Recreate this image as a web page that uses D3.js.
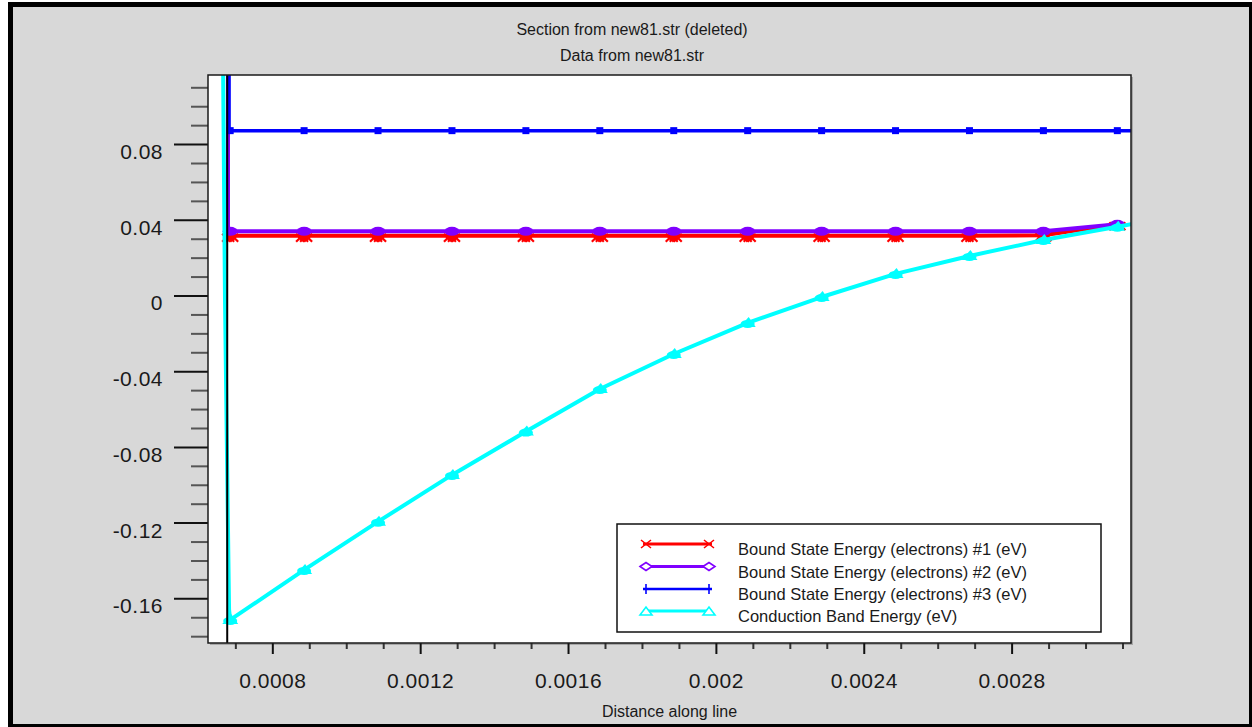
<!DOCTYPE html>
<html>
<head>
<meta charset="utf-8">
<script src="https://cdn.jsdelivr.net/npm/d3@7"></script>
<style>
  html, body { margin: 0; padding: 0; background: #ffffff; }
  svg { display: block; }
  text { font-family: "Liberation Sans", Arial, Helvetica, sans-serif; fill: #1a1a1a; }
</style>
</head>
<body>
<svg id="chart" width="1252" height="727"></svg>
<script>
// Sample positions along the cut line (where symbols are placed)
const distance = [0.000686, 0.000886, 0.001086, 0.001286, 0.001486, 0.001686, 0.001886,
                  0.002086, 0.002286, 0.002486, 0.002686, 0.002886, 0.003086];
// Energies (eV) at those positions
const boundState1 = [0.0316, 0.0316, 0.0316, 0.0316, 0.0316, 0.0316, 0.0316,
                     0.0316, 0.0316, 0.0316, 0.0316, 0.0318, 0.0376];
const boundState2 = [0.0339, 0.0339, 0.0339, 0.0339, 0.0339, 0.0339, 0.0339,
                     0.0339, 0.0339, 0.0339, 0.0339, 0.0339, 0.0376];
const boundState3 = [0.0871, 0.0871, 0.0871, 0.0871, 0.0871, 0.0871, 0.0871,
                     0.0871, 0.0871, 0.0871, 0.0871, 0.0871, 0.0871];
const conductionBand = [-0.1714, -0.1450, -0.1195, -0.0948, -0.0719, -0.0494, -0.0309,
                        -0.0145, -0.0008, 0.0114, 0.0209, 0.0293, 0.0363];

// Barrier wall at the left side of the well
const wallDistance = [0.000666, 0.000667, 0.000672, 0.000679, 0.000683];
const wallBand     = [0.1300, 0.1165, -0.0024, -0.1080, -0.1660];
// Left edge of each bound-state level (they rise off the top of the axes there)
const stateWallDistance = [0.000680, 0.000680, 0.000683];
const stateWallTop = 0.1300;
// Points past the last symbol, running to the right end of the line
const tailDistance = 0.003140;
const tailBand = 0.0383;
// Interface position (drawn as a vertical marker)
const interfaceDistance = 0.000678;

// Axis ticks
const xTicks = [0.0008, 0.0012, 0.0016, 0.002, 0.0024, 0.0028];
const xTickLabels = ["0.0008", "0.0012", "0.0016", "0.002", "0.0024", "0.0028"];
const yTicks = [0.08, 0.04, 0, -0.04, -0.08, -0.12, -0.16];
const yTickLabels = ["0.08", "0.04", "0", "-0.04", "-0.08", "-0.12", "-0.16"];

const titleLines = ["Section from new81.str (deleted)", "Data from new81.str"];
const xTitle = "Distance along line";
const legendLabels = [
  "Bound State Energy (electrons) #1 (eV)",
  "Bound State Energy (electrons) #2 (eV)",
  "Bound State Energy (electrons) #3 (eV)",
  "Conduction Band Energy (eV)"
];
const seriesColors = ["#ff0000", "#8000ff", "#0000ff", "#00ffff"];

// ---------------------------------------------------------------------------
const svg = d3.select("#chart");
const W = 1252, H = 727;
const plot = { left: 208, top: 75, right: 1131, bottom: 643 };

// page frame
svg.append("rect").attr("x", 0).attr("y", 0).attr("width", W).attr("height", H).attr("fill", "#ffffff");
svg.append("rect").attr("x", 8).attr("y", 2).attr("width", W - 8).attr("height", H - 2).attr("fill", "#000000");
svg.append("rect").attr("x", 13).attr("y", 7).attr("width", W - 8 - 5 - 3).attr("height", H - 2 - 5 - 3).attr("fill", "#d8d8d8");

const x = d3.scaleLinear().domain([0.000626, 0.003123]).range([plot.left, plot.right]);
const y = d3.scaleLinear().domain([-0.1836, 0.1165]).range([plot.bottom, plot.top]);

// plot background with a soft shadow on the right/bottom
svg.append("rect").attr("x", plot.left + 2).attr("y", plot.top + 2)
  .attr("width", plot.right - plot.left).attr("height", plot.bottom - plot.top).attr("fill", "#a8a8a8");
svg.append("rect").attr("x", plot.left).attr("y", plot.top)
  .attr("width", plot.right - plot.left).attr("height", plot.bottom - plot.top)
  .attr("fill", "#ffffff");

svg.append("clipPath").attr("id", "plotClip").append("rect")
  .attr("x", plot.left).attr("y", plot.top)
  .attr("width", plot.right - plot.left).attr("height", plot.bottom - plot.top);

// ---------------- axes ----------------
const yMinor = d3.range(-18, 12).map(d => d / 100).filter(v => Math.abs(Math.round(v * 100)) % 4 !== 0);
const xMinor = d3.range(7, 32).map(d => d / 10000).filter(v => Math.round(v * 10000) % 4 !== 0);

const yMinorAxis = svg.append("g").attr("transform", `translate(${plot.left},0)`)
  .call(d3.axisLeft(y).tickValues(yMinor).tickSize(17).tickFormat(""));
yMinorAxis.selectAll("line").attr("stroke", "#555").attr("stroke-width", 2);

const yMajorAxis = svg.append("g").attr("transform", `translate(${plot.left},0)`)
  .call(d3.axisLeft(y).tickValues(yTicks).tickSize(34).tickPadding(12)
    .tickFormat((d, i) => yTickLabels[i]));
yMajorAxis.selectAll("line").attr("stroke", "#111").attr("stroke-width", 2);
yMajorAxis.selectAll("text")
  .attr("dy", 14.5).attr("x", -45)
  .style("font-size", "21px").style("letter-spacing", "0.5px").attr("fill", "#1a1a1a");

const xMinorAxis = svg.append("g").attr("transform", `translate(0,${plot.bottom})`)
  .call(d3.axisBottom(x).tickValues(xMinor).tickSize(6).tickFormat(""));
xMinorAxis.selectAll("line").attr("stroke", "#333").attr("stroke-width", 2);

const xMajorAxis = svg.append("g").attr("transform", `translate(0,${plot.bottom})`)
  .call(d3.axisBottom(x).tickValues(xTicks).tickSize(11).tickPadding(0)
    .tickFormat((d, i) => xTickLabels[i]));
xMajorAxis.selectAll("line").attr("stroke", "#111").attr("stroke-width", 2);
xMajorAxis.selectAll("text")
  .attr("dy", 0).attr("y", 45)
  .style("font-size", "21px").style("letter-spacing", "0.5px").attr("fill", "#1a1a1a");

[yMinorAxis, yMajorAxis, xMinorAxis, xMajorAxis].forEach(g => g.select(".domain").remove());

// ---------------- titles ----------------
svg.append("text").attr("x", 632).attr("y", 35).attr("text-anchor", "middle")
  .style("font-size", "16px").text(titleLines[0]);
svg.append("text").attr("x", 632).attr("y", 61).attr("text-anchor", "middle")
  .style("font-size", "16px").text(titleLines[1]);
svg.append("text").attr("x", (plot.left + plot.right) / 2).attr("y", 716.5).attr("text-anchor", "middle")
  .style("font-size", "16px").text(xTitle);

// ---------------- curves ----------------
const g = svg.append("g").attr("clip-path", "url(#plotClip)");
const line = d3.line().x(d => x(d[0])).y(d => y(d[1]));

function statePoints(values, k, extendToEnd) {
  const pts = [[stateWallDistance[k], stateWallTop], [stateWallDistance[k], values[0]]];
  distance.forEach((d, i) => pts.push([d, values[i]]));
  if (extendToEnd) pts.push([tailDistance, values[values.length - 1]]);
  return pts;
}
const bandPoints = wallDistance.map((d, i) => [d, wallBand[i]])
  .concat(distance.map((d, i) => [d, conductionBand[i]]))
  .concat([[tailDistance, tailBand]]);

const seriesLines = [
  statePoints(boundState1, 0, false),
  statePoints(boundState2, 1, false),
  statePoints(boundState3, 2, true),
  bandPoints
];
const seriesMarks = [boundState1, boundState2, boundState3, conductionBand];

function drawSymbol(sel, k, cx, cy) {
  const c = seriesColors[k];
  if (k === 0) {
    // cluster of crosses just under the line
    sel.append("ellipse").attr("cx", cx).attr("cy", cy + 1.5).attr("rx", 6).attr("ry", 3.5).attr("fill", c);
    [-4, 0, 4].forEach(off => {
      sel.append("path")
        .attr("d", `M${cx + off - 4},${cy - 2}L${cx + off + 4},${cy + 6}M${cx + off + 4},${cy - 2}L${cx + off - 4},${cy + 6}`)
        .attr("stroke", c).attr("stroke-width", 2.2).attr("fill", "none");
    });
  } else if (k === 1) {
    sel.append("ellipse").attr("cx", cx).attr("cy", cy).attr("rx", 7.5).attr("ry", 4.5).attr("fill", c);
  } else if (k === 2) {
    sel.append("rect").attr("x", cx - 3.5).attr("y", cy - 3.5).attr("width", 7).attr("height", 7).attr("fill", c);
  } else {
    sel.append("path")
      .attr("d", `M${cx - 8},${cy + 4}L${cx + 1},${cy - 6}L${cx + 8},${cy + 4}Z`)
      .attr("fill", c);
    sel.append("ellipse").attr("cx", cx).attr("cy", cy + 1).attr("rx", 7).attr("ry", 4).attr("fill", c);
  }
}

seriesLines.forEach((pts, k) => {
  g.append("path").datum(pts)
    .attr("d", line)
    .attr("fill", "none")
    .attr("stroke", seriesColors[k])
    .attr("stroke-width", k === 3 ? 4 : (k === 2 ? 3.5 : 4))
    .attr("stroke-linejoin", "round");
  const mg = g.append("g");
  seriesMarks[k].forEach((v, i) => drawSymbol(mg, k, x(distance[i]), y(v)));
});

// interface marker
g.append("line")
  .attr("x1", x(interfaceDistance)).attr("x2", x(interfaceDistance))
  .attr("y1", plot.top).attr("y2", plot.bottom)
  .attr("stroke", "#000").attr("stroke-width", 2);

// plot frame
svg.append("rect").attr("x", plot.left).attr("y", plot.top)
  .attr("width", plot.right - plot.left).attr("height", plot.bottom - plot.top)
  .attr("fill", "none").attr("stroke", "#1a1a1a").attr("stroke-width", 1.5);

// ---------------- legend ----------------
const lg = svg.append("g");
lg.append("rect").attr("x", 617).attr("y", 524).attr("width", 484).attr("height", 108)
  .attr("fill", "#ffffff").attr("stroke", "#111").attr("stroke-width", 1.5);

const legendRowY = [544, 566.5, 589, 611];
legendLabels.forEach((lab, k) => {
  const ly = legendRowY[k];
  const c = seriesColors[k];
  const x1 = 640, x2 = 715;
  lg.append("line").attr("x1", x1 + 3).attr("x2", x2 - 3).attr("y1", ly).attr("y2", ly)
    .attr("stroke", c).attr("stroke-width", k === 2 ? 2.5 : 3);
  [646, 709].forEach(mx => {
    if (k === 0) {
      lg.append("path").attr("d", `M${mx - 5},${ly - 4}L${mx + 5},${ly + 4}M${mx + 5},${ly - 4}L${mx - 5},${ly + 4}`)
        .attr("stroke", c).attr("stroke-width", 1.6).attr("fill", "none");
    } else if (k === 1) {
      lg.append("path").attr("d", `M${mx - 6},${ly}L${mx},${ly - 4}L${mx + 6},${ly}L${mx},${ly + 4}Z`)
        .attr("stroke", c).attr("stroke-width", 1.6).attr("fill", "#ffffff");
    } else if (k === 2) {
      lg.append("line").attr("x1", mx).attr("x2", mx).attr("y1", ly - 5).attr("y2", ly + 5)
        .attr("stroke", c).attr("stroke-width", 1.6);
    } else {
      lg.append("path").attr("d", `M${mx - 6},${ly + 4}L${mx},${ly - 4}L${mx + 6},${ly + 4}Z`)
        .attr("stroke", c).attr("stroke-width", 1.6).attr("fill", "#ffffff");
    }
  });
  lg.append("text").attr("x", 738).attr("y", legendRowY[k] + 11)
    .style("font-size", "16.5px").text(lab);
});
</script>
</body>
</html>
